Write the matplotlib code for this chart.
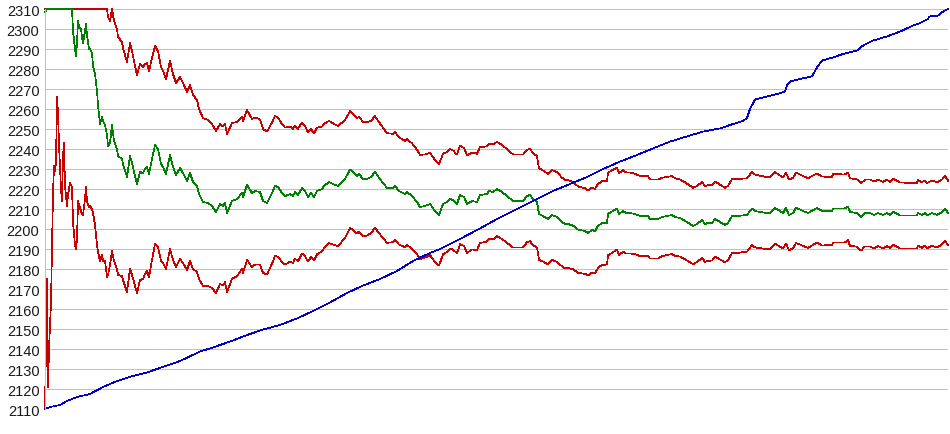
import numpy as np
import matplotlib
matplotlib.use("Agg")
import matplotlib.pyplot as plt

# game number for the rating estimate and its band
games = [0, 2, 3, 4, 6, 7, 8, 9, 10, 11, 12, 13, 14, 16, 17, 18, 19, 20, 22, 23,
         25, 27, 28, 30, 31, 32, 33, 34, 36, 37, 38, 40, 41, 42, 44, 45, 47, 48, 50, 52,
         53, 55, 57, 58, 60, 62, 63, 65, 67, 69, 72, 73, 77, 78, 82, 85, 87, 90, 92, 95,
         98, 100, 102, 104, 107, 110, 113, 116, 118, 121, 125, 128, 131, 135, 138, 142, 145, 148, 152, 154,
         158, 163, 167, 171, 175, 178, 180, 182, 187, 192, 197, 198, 202, 207, 210, 215, 218, 222, 227, 230,
         233, 237, 240, 243, 245, 248, 250, 253, 257, 260, 263, 266, 269, 272, 277, 279, 284, 288, 293, 297,
         300, 305, 308, 312, 314, 318, 322, 326, 330, 335, 342, 348, 350, 354, 360, 362, 367, 372, 375, 380,
         385, 389, 394, 398, 402, 405, 408, 412, 415, 419, 422, 427, 432, 435, 442, 444, 448, 452, 457, 462,
         468, 478, 482, 485, 488, 492, 494, 498, 503, 507, 512, 517, 520, 523, 528, 533, 540, 543, 547, 550,
         553, 557, 562, 563, 568, 572, 574, 578, 581, 585, 590, 595, 603, 605, 613, 617, 622, 627, 630, 635,
         642, 648, 652, 657, 660, 663, 667, 670, 675, 680, 683, 687, 692, 702, 707, 710, 715, 722, 725, 730,
         735, 738, 741, 744, 748, 751, 754, 758, 763, 772, 777, 787, 788, 800, 803, 805, 812, 816, 820, 825,
         829, 833, 838, 842, 845, 848, 851, 855, 872, 873, 877, 880, 882, 887, 892, 897, 900, 903]

# rating estimate (green), chart shows it clamped to 2310
rating = [2308.5, 2310, 2310, 2310, 2310, 2310, 2310, 2310, 2310, 2310, 2310, 2310, 2310, 2310, 2310, 2310, 2310, 2310, 2310, 2310,
          2310, 2310, 2299, 2290, 2286.5, 2293, 2304, 2301, 2300, 2296, 2293, 2299, 2302.5, 2297, 2290, 2290, 2288, 2281.5, 2277.5, 2269,
          2262, 2252.5, 2256, 2254, 2252, 2247, 2241.5, 2243, 2252, 2244, 2240, 2236.5, 2235, 2232.5, 2226, 2236.5, 2233, 2226.5, 2222.5, 2228.5,
          2228, 2230, 2231, 2227.5, 2235, 2242, 2240, 2232.5, 2231, 2227.5, 2237, 2231, 2227, 2230.5, 2228, 2224, 2228, 2223.5, 2221.5, 2217.5,
          2213.5, 2213, 2211.5, 2208.5, 2212.5, 2211.5, 2213, 2208, 2214, 2215, 2218, 2216, 2222, 2218, 2219, 2218.5, 2214, 2213, 2218, 2221.5,
          2221, 2218, 2216.5, 2217, 2217.5, 2216.5, 2218.5, 2217, 2220.5, 2219, 2216, 2218, 2216, 2219, 2220, 2221.5, 2223.5, 2222.5, 2221.5, 2223.5,
          2225, 2229.7, 2228.5, 2226.5, 2227.5, 2225, 2225, 2226, 2228.5, 2225, 2220.5, 2220.5, 2221.5, 2219, 2217.5, 2218.5, 2216.5, 2213.5, 2211, 2211.5,
          2212.5, 2209.7, 2207, 2212.5, 2213.5, 2215, 2214.5, 2212.5, 2217, 2216, 2212.5, 2214, 2213.5, 2217, 2217.5, 2219, 2218.5, 2220, 2218.5, 2216.5,
          2214, 2214, 2216.5, 2217, 2215, 2213.5, 2207.5, 2206.5, 2205, 2207, 2206, 2203.5, 2202.5, 2202.5, 2201.7, 2199.7, 2199, 2198, 2199.5, 2199,
          2201.5, 2203, 2203, 2207.5, 2209, 2210.3, 2207.5, 2209, 2208, 2208, 2207.5, 2206.5, 2206.5, 2205, 2205, 2206, 2206.5, 2207, 2206, 2205.5,
          2203.5, 2201.5, 2202.5, 2204.5, 2202.5, 2203, 2203, 2205, 2203.5, 2202, 2203, 2206.5, 2206.5, 2207, 2210.3, 2209, 2208.5, 2208, 2208, 2210.5,
          2209, 2208, 2210.5, 2207, 2208, 2210.5, 2210, 2209, 2208, 2210.5, 2209, 2209, 2210.3, 2210.3, 2211.3, 2208.5, 2208, 2206, 2208, 2208,
          2207, 2208, 2207, 2208, 2207, 2208.5, 2208, 2206.7, 2206.7, 2208, 2207, 2208, 2206.7, 2208, 2207, 2208.5, 2210.3, 2208]

# half width of the uncertainty band (red lines)
spread = [198.5, 135, 189, 170, 146.5, 120, 92, 78.5, 81, 76.5, 44, 52, 68, 90, 96, 73.5, 67, 88.5, 98.5, 93,
          87, 89, 95.5, 98, 96.5, 98, 90, 89, 91, 88.5, 86, 84, 81.5, 83.5, 79, 78.5, 78, 73.5, 75.5, 77,
          73.5, 68.5, 69, 70, 68, 71, 64.5, 61, 63, 60, 60, 59.5, 58.5, 58, 57.5, 56.5, 56, 55, 54.5, 54,
          53, 52.5, 52, 51.5, 50.5, 49.5, 49, 48.5, 48, 47.5, 47, 46.5, 46, 45.5, 45, 44.5, 44, 43.5, 43, 42.5,
          42, 41.5, 41, 40.5, 40, 39.8, 39.6, 39.4, 39, 38.5, 38, 38, 37.5, 37, 36.8, 36.3, 36, 35.7, 35.3, 35,
          34.8, 34.5, 34.2, 34, 33.8, 33.5, 33.3, 33.1, 32.8, 32.5, 32.3, 32, 31.8, 31.6, 31.2, 31, 30.6, 30.3, 30, 29.7,
          29.5, 29.2, 29, 28.8, 28.7, 28.5, 28.3, 28.1, 27.9, 27.7, 27.4, 27.1, 27, 26.8, 26.6, 26.5, 26.3, 26.1, 26, 25.8,
          25.6, 25.5, 25.3, 25.2, 25, 24.9, 24.8, 24.7, 24.6, 24.5, 24.4, 24.2, 24.1, 24, 23.8, 23.8, 23.7, 23.6, 23.5, 23.4,
          23.3, 23.2, 23.1, 23.1, 23, 22.9, 22.9, 22.8, 22.6, 22.5, 22.4, 22.2, 22.1, 22, 21.8, 21.6, 21.4, 21.3, 21.2, 21.1,
          21, 20.9, 20.8, 20.7, 20.6, 20.5, 20.5, 20.4, 20.3, 20.2, 20.1, 20, 19.9, 19.8, 19.7, 19.6, 19.5, 19.5, 19.4, 19.3,
          19.2, 19.1, 19, 19, 18.9, 18.9, 18.8, 18.8, 18.7, 18.6, 18.6, 18.5, 18.5, 18.3, 18.3, 18.2, 18.1, 18, 18, 17.9,
          17.8, 17.8, 17.7, 17.7, 17.6, 17.6, 17.5, 17.5, 17.4, 17.3, 17.2, 17.1, 17.1, 17, 16.9, 16.9, 16.8, 16.8, 16.7, 16.7,
          16.7, 16.6, 16.6, 16.6, 16.5, 16.5, 16.5, 16.5, 16.4, 16.4, 16.4, 16.3, 16.3, 16.3, 16.3, 16.2, 16.2, 16.2]

# blue line
blue_games = [0, 5, 15, 22, 32, 45, 58, 72, 88, 102, 112, 135, 155, 168, 185, 202, 218, 235, 252, 268,
              285, 302, 318, 335, 352, 368, 385, 395, 415, 435, 455, 475, 492, 508, 525, 542, 558, 575, 592, 608,
              625, 642, 658, 675, 688, 698, 702, 705, 710, 722, 732, 740, 742, 745, 755, 767, 772, 777, 788, 798,
              812, 818, 828, 842, 855, 868, 875, 882, 885, 893, 898, 903]
blue_vals = [2110, 2111, 2112, 2114, 2116, 2117.5, 2121, 2124, 2126.5, 2128.3, 2130, 2134, 2138.7, 2140.8, 2143.7, 2147, 2149.7, 2152, 2155.3, 2159,
             2163.3, 2168, 2171.7, 2175, 2179, 2184, 2188, 2190, 2195, 2200.3, 2205.8, 2210.8, 2215, 2219, 2222.5, 2226, 2230, 2233.7, 2237, 2240.3,
             2243.7, 2246.3, 2248.7, 2250.3, 2252.5, 2254, 2255.5, 2260, 2264.7, 2266.3, 2267.5, 2268.7, 2272, 2273.7, 2275, 2276.3, 2280.8, 2284.2, 2285.8, 2287.5,
             2289.2, 2291.7, 2294.2, 2296.3, 2298.7, 2301.7, 2303, 2304.7, 2306.3, 2306.7, 2308.7, 2310]

y_ticks = list(range(2110, 2311, 10))
y_min, y_max = 2110, 2310

x = np.array(games)
mid = np.array(rating)
half = np.array(spread)
# the chart pins everything outside its range to the edge
upper = np.clip(mid + half, y_min, y_max)
lower = np.clip(mid - half, y_min, y_max)
mid = np.clip(mid, y_min, y_max)

fig = plt.figure(figsize=(9.5, 4.35), dpi=100)
ax = fig.add_axes([45 / 950, 1 - 410 / 435, 903 / 950, 400 / 435])

ax.set_ylim(y_min, y_max)
ax.set_xlim(0, 903)
ax.set_yticks(y_ticks)
ax.set_yticklabels([str(t) for t in y_ticks], fontsize=10.5, color="#1a1a1a",
                   family=["Liberation Sans", "DejaVu Sans"])
ax.set_xticks([])
ax.tick_params(axis="y", length=0, pad=4)
for t in y_ticks:
    ax.axhline(t, color="#c0c0c0", lw=0.72, zorder=0, antialiased=False)

for side in ["top", "right", "bottom"]:
    ax.spines[side].set_visible(False)
ax.spines["left"].set_color("#c0c0c0")
ax.spines["left"].set_linewidth(0.72)

lw = 0.5
ax.plot(x, upper, color="#c80000", lw=lw, antialiased=False, clip_on=False)
ax.plot(x, lower, color="#c80000", lw=lw, antialiased=False, clip_on=False)
ax.plot(x, mid, color="#008000", lw=lw, antialiased=False, clip_on=False)
ax.plot(blue_games, blue_vals, color="#0000c8", lw=lw, antialiased=False, clip_on=False)

fig.savefig("out.png", dpi=100)
